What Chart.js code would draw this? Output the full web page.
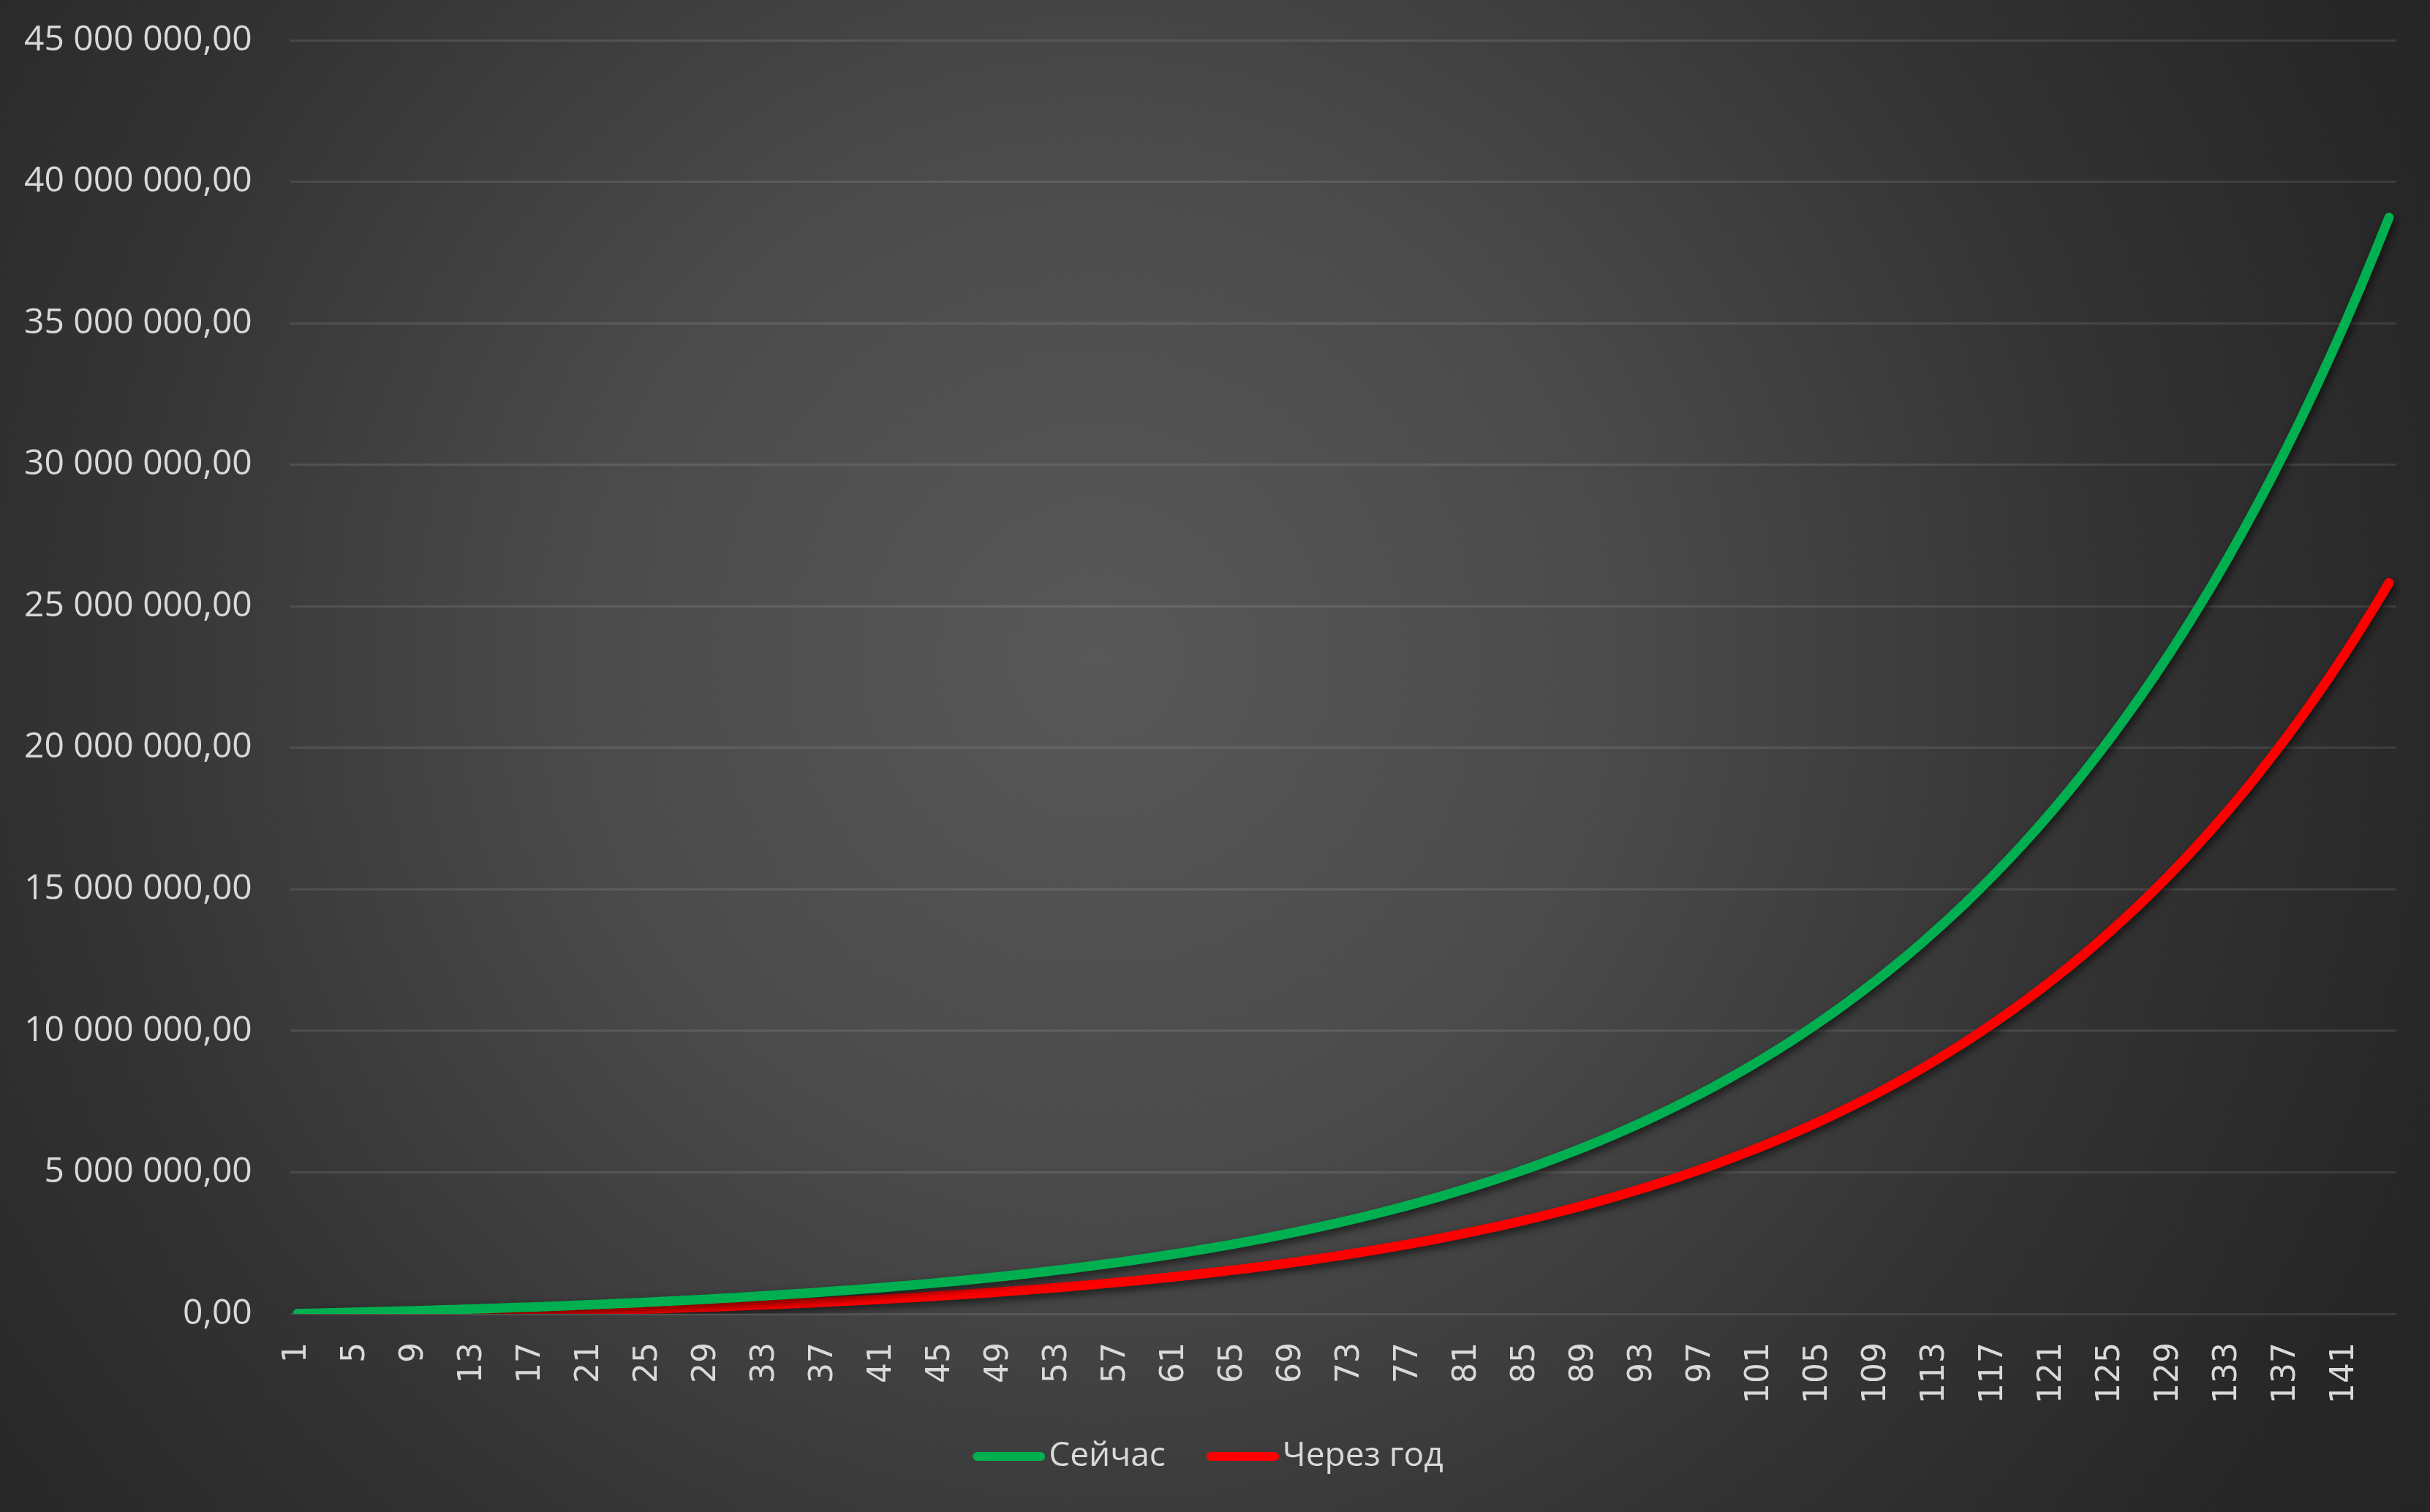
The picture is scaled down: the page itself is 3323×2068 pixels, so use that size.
<!DOCTYPE html>
<html>
<head>
<meta charset="utf-8">
<script src="https://cdn.jsdelivr.net/npm/chart.js@4/dist/chart.umd.min.js"></script>
<style>
  html, body { margin: 0; padding: 0; background: #262626; overflow: hidden; }
  #wrap {
    width: 3323px; height: 2068px; position: relative;
    background: radial-gradient(circle at 1500px 900px, #585858 0px, #4b4b4b 700px, #333333 1400px, #272727 1900px, #232323 2400px);
  }
  #wrap canvas { display: block; }
</style>
</head>
<body>
<div id="wrap"><canvas id="growthChart"></canvas></div>
<script>
// months 1..144
const months = [
  1,2,3,4,5,6,7,8,9,10,11,12,13,14,15,16,17,18,19,20,21,22,23,24,
  25,26,27,28,29,30,31,32,33,34,35,36,37,38,39,40,41,42,43,44,45,46,47,48,
  49,50,51,52,53,54,55,56,57,58,59,60,61,62,63,64,65,66,67,68,69,70,71,72,
  73,74,75,76,77,78,79,80,81,82,83,84,85,86,87,88,89,90,91,92,93,94,95,96,
  97,98,99,100,101,102,103,104,105,106,107,108,109,110,111,112,113,114,115,116,117,118,119,120,
  121,122,123,124,125,126,127,128,129,130,131,132,133,134,135,136,137,138,139,140,141,142,143,144
];

// "Сейчас"
const nowValues = [
  10770, 21910, 33420, 45330, 57640, 70370, 83530, 97140, 111210, 125770,
  140810, 156370, 172450, 189090, 206290, 224070, 242460, 261470, 281130, 301460,
  322480, 344220, 366690, 389930, 413950, 438800, 464490, 491050, 518510, 546910,
  576280, 606640, 638040, 670500, 704070, 738780, 774670, 811780, 850140, 889820,
  930840, 973260, 1017120, 1062470, 1109370, 1157860, 1207990, 1259840, 1313440, 1368870,
  1426180, 1485440, 1546720, 1610080, 1675590, 1743330, 1813370, 1885800, 1960680, 2038120,
  2118180, 2200970, 2286570, 2375090, 2466610, 2561250, 2659100, 2760280, 2864900, 2973080,
  3084930, 3200590, 3320180, 3443840, 3571700, 3703900, 3840610, 3981960, 4128110, 4279240,
  4435500, 4597080, 4764150, 4936900, 5115530, 5300220, 5491200, 5688670, 5892850, 6103980,
  6322290, 6548020, 6781420, 7022760, 7272310, 7530330, 7797130, 8073000, 8358250, 8653200,
  8958180, 9273520, 9599610, 9936760, 10285370, 10645840, 11018570, 11403990, 11802490, 12214540,
  12640610, 13081160, 13536680, 14007700, 14494730, 14998320, 15519050, 16057460, 16614190, 17189830,
  17785070, 18400530, 19036920, 19694950, 20375340, 21078880, 21806330, 22558510, 23336280, 24140470,
  24972010, 25831830, 26720890, 27640170, 28590700, 29573570, 30589840, 31640680, 32727210, 33850700,
  35012400, 36213590, 37455630, 38739890
];

// "Через год" (starts at month 13)
const laterValues = [
  null, null, null, null, null, null, null, null, null, null, null, null,
  10770, 21910, 33420, 45330, 57640, 70370, 83530, 97140, 111210, 125770,
  140810, 156370, 172450, 189090, 206290, 224070, 242460, 261470, 281130, 301460,
  322480, 344220, 366690, 389930, 413950, 438800, 464490, 491050, 518510, 546910,
  576280, 606640, 638040, 670500, 704070, 738780, 774670, 811780, 850140, 889820,
  930840, 973260, 1017120, 1062470, 1109370, 1157860, 1207990, 1259840, 1313440, 1368870,
  1426180, 1485440, 1546720, 1610080, 1675590, 1743330, 1813370, 1885800, 1960680, 2038120,
  2118180, 2200970, 2286570, 2375090, 2466610, 2561250, 2659100, 2760280, 2864900, 2973080,
  3084930, 3200590, 3320180, 3443840, 3571700, 3703900, 3840610, 3981960, 4128110, 4279240,
  4435500, 4597080, 4764150, 4936900, 5115530, 5300220, 5491200, 5688670, 5892850, 6103980,
  6322290, 6548020, 6781420, 7022760, 7272310, 7530330, 7797130, 8073000, 8358250, 8653200,
  8958180, 9273520, 9599610, 9936760, 10285370, 10645840, 11018570, 11403990, 11802490, 12214540,
  12640610, 13081160, 13536680, 14007700, 14494730, 14998320, 15519050, 16057460, 16614190, 17189830,
  17785070, 18400530, 19036920, 19694950, 20375340, 21078880, 21806330, 22558510, 23336280, 24140470,
  24972010, 25831830
];

const yMax = 45000000;
const yStep = 5000000;
const xLabelEvery = 4;

function fmtMoney(v) {
  return Math.round(v).toString().replace(/\B(?=(\d{3})+(?!\d))/g, " ") + ",00";
}

// legend sample: short rounded line sitting right next to the text
function legendSample(color) {
  const c = document.createElement("canvas");
  c.width = 163;
  c.height = 16;
  const g = c.getContext("2d");
  g.strokeStyle = color;
  g.lineWidth = 12;
  g.lineCap = "round";
  g.beginPath();
  g.moveTo(70, 8);
  g.lineTo(157, 8);
  g.stroke();
  return c;
}

// soft dark shadow under the lines, like the Excel original
const lineShadow = {
  id: "lineShadow",
  beforeDatasetDraw(chart) {
    const ctx = chart.ctx;
    ctx.save();
    ctx.shadowColor = "rgba(0,0,0,0.6)";
    ctx.shadowBlur = 12;
    ctx.shadowOffsetX = 3;
    ctx.shadowOffsetY = 5;
  },
  afterDatasetDraw(chart) {
    chart.ctx.restore();
  }
};

const ctx = document.getElementById("growthChart");
new Chart(ctx, {
  type: "line",
  data: {
    labels: months,
    datasets: [{
      label: "Сейчас",
      data: nowValues,
      borderColor: "#00B050",
      backgroundColor: "#00B050",
      borderWidth: 13,
      borderCapStyle: "round",
      borderJoinStyle: "round",
      pointRadius: 0,
      pointStyle: legendSample("#00B050"),
      tension: 0
    }, {
      label: "Через год",
      data: laterValues,
      borderColor: "#FF0000",
      backgroundColor: "#FF0000",
      borderWidth: 13,
      borderCapStyle: "round",
      borderJoinStyle: "round",
      pointRadius: 0,
      pointStyle: legendSample("#FF0000"),
      tension: 0
    }]
  },
  options: {
    responsive: true,
    maintainAspectRatio: false,
    animation: false,
    layout: { padding: { top: 55, right: 46, left: -19, bottom: 43 } },
    plugins: {
      tooltip: { enabled: false },
      legend: {
        position: "bottom",
        labels: {
          usePointStyle: true,
          pointStyleWidth: 127,
          boxHeight: 16,
          padding: 10,
          color: "#d9d9d9",
          font: { family: "'Open Sans'", size: 46 }
        }
      }
    },
    scales: {
      x: {
        offset: true,
        grid: { display: false, drawTicks: false },
        border: { display: false },
        afterFit(scale) { scale.paddingLeft = 0; scale.paddingRight = 0; },
        ticks: {
          autoSkip: false,
          maxRotation: 90,
          minRotation: 90,
          padding: 39,
          color: "#d9d9d9",
          font: { family: "'DejaVu Sans'", size: 44 },
          callback: function (val, i) {
            return i % xLabelEvery === 0 ? String(months[i]) : "";
          }
        }
      },
      y: {
        min: 0,
        max: yMax,
        border: { display: false },
        grid: { color: "rgba(255,255,255,0.10)", lineWidth: 3, drawTicks: false },
        afterFit(scale) { scale.paddingTop = 0; scale.paddingBottom = 0; },
        ticks: {
          stepSize: yStep,
          padding: 52,
          color: "#d9d9d9",
          font: { family: "'Open Sans'", size: 48 },
          callback: function (v) { return fmtMoney(v); }
        }
      }
    }
  },
  plugins: [lineShadow]
});
</script>
</body>
</html>
